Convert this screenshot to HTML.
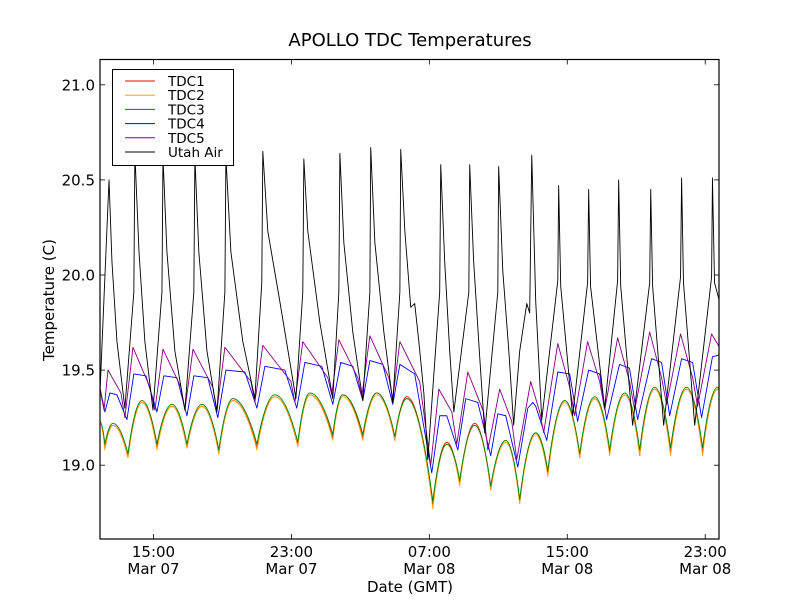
<!DOCTYPE html>
<html><head><meta charset="utf-8"><style>
html,body{margin:0;padding:0;background:#fff;}
svg{display:block;font-family:"DejaVu Sans","Liberation Sans",sans-serif;}
</style></head><body>
<svg id="chart" width="800" height="600" viewBox="0 0 800 600">
<rect x="0" y="0" width="800" height="600" fill="#fff"/>
<text x="410" y="46" font-size="18" text-anchor="middle">APOLLO TDC Temperatures</text>
<text transform="translate(54,300) rotate(-90)" font-size="15" text-anchor="middle">Temperature (C)</text>
<text x="410" y="592" font-size="15" text-anchor="middle">Date (GMT)</text>
<defs><clipPath id="plotclip"><rect x="100" y="59.5" width="619" height="479.5"/></clipPath></defs>
<g id="series" clip-path="url(#plotclip)"></g>
<g id="axes"></g>
<g id="legend"></g>
</svg>
<script>
// x: hours since Mar 07 00:00 GMT, y: temperature (C)
const xTickHours = [15, 23, 31, 39, 47];
const xTickTimes = ["15:00", "23:00", "07:00", "15:00", "23:00"];
const xTickDates = ["Mar 07", "Mar 07", "Mar 08", "Mar 08", "Mar 08"];
const yTicks = [19.0, 19.5, 20.0, 20.5, 21.0];
const yTickLabels = ["19.0", "19.5", "20.0", "20.5", "21.0"];
const seriesNames = ["TDC1", "TDC2", "TDC3", "TDC4", "TDC5", "Utah Air"];

const airTimes = [11.89,12.42,12.59,12.88,13.34,13.86,13.92,14.16,14.50,14.97,15.49,15.55,15.78,16.24,16.82,17.34,17.40,17.63,18.10,18.68,19.14,19.20,19.49,20.18,20.88,21.28,21.34,21.63,22.33,23.26,23.66,23.72,23.95,24.65,25.40,25.75,25.81,26.04,26.56,27.14,27.55,27.60,27.84,28.36,28.88,29.29,29.34,29.58,29.92,30.15,30.39,30.68,30.91,31.60,31.66,31.89,32.18,32.42,33.29,33.34,33.57,33.92,34.21,34.97,35.02,35.26,35.61,35.89,36.24,36.65,36.82,36.94,37.17,37.52,38.45,38.50,38.62,39.31,40.18,40.24,40.35,41.17,41.92,41.98,42.10,42.79,43.78,43.84,43.95,44.59,45.57,45.63,45.74,46.39,47.37,47.42,47.54,47.83];
const airValues = [19.37,20.50,20.07,19.65,19.30,19.91,20.64,20.12,19.65,19.29,19.91,20.62,20.12,19.60,19.29,19.91,20.62,20.12,19.60,19.28,19.91,20.62,20.12,19.65,19.35,19.96,20.65,20.23,19.86,19.35,19.91,20.61,20.23,19.75,19.35,19.91,20.64,20.17,19.70,19.34,19.91,20.67,20.17,19.70,19.33,19.91,20.66,20.23,19.83,19.85,19.65,19.38,19.03,19.91,20.58,20.07,19.60,19.28,19.91,20.58,20.07,19.57,19.17,19.91,20.57,20.02,19.60,19.21,19.60,19.85,19.80,20.63,19.86,19.24,19.97,20.47,19.94,19.26,19.96,20.45,19.94,19.30,19.97,20.50,19.94,19.21,19.96,20.45,19.94,19.21,19.99,20.51,19.96,19.21,19.99,20.51,19.96,19.86];

const tdc4Times = [11.89,12.18,12.47,12.88,13.46,13.86,14.56,15.20,15.60,16.36,16.94,17.34,18.15,18.73,19.20,20.30,21.00,21.46,22.62,23.31,23.78,24.76,25.40,25.86,26.56,27.14,27.55,28.30,28.88,29.29,30.15,31.14,31.60,32.01,32.65,33.11,33.81,34.56,34.97,35.43,36.13,36.71,37.00,37.17,37.81,38.45,39.14,39.60,40.24,40.88,41.28,42.03,42.61,43.08,43.89,44.47,44.94,45.63,46.27,46.79,47.42,47.83];
const tdc4Values = [19.41,19.28,19.38,19.37,19.24,19.48,19.47,19.28,19.47,19.46,19.26,19.47,19.46,19.25,19.50,19.49,19.30,19.52,19.50,19.30,19.54,19.52,19.32,19.54,19.52,19.34,19.55,19.53,19.32,19.53,19.48,18.96,19.26,19.26,19.08,19.35,19.33,19.05,19.27,19.26,18.99,19.30,19.33,19.31,19.13,19.49,19.48,19.23,19.50,19.48,19.24,19.53,19.51,19.24,19.56,19.54,19.26,19.56,19.54,19.25,19.57,19.58];

const tdc5Times = [11.89,12.13,12.36,13.11,13.34,13.81,14.79,15.08,15.55,16.59,16.82,17.29,18.44,18.68,19.14,20.65,20.88,21.34,22.97,23.20,23.66,25.11,25.34,25.75,26.85,27.08,27.55,28.65,28.88,29.29,30.44,31.08,31.55,32.30,32.59,33.23,34.15,34.39,35.08,35.78,36.07,36.88,37.40,37.63,38.45,39.14,39.43,40.18,40.88,41.17,41.92,42.61,42.91,43.78,44.47,44.76,45.57,46.27,46.56,47.37,47.83];
const tdc5Values = [19.40,19.29,19.50,19.38,19.25,19.62,19.41,19.29,19.61,19.41,19.29,19.61,19.41,19.29,19.62,19.44,19.33,19.63,19.44,19.33,19.65,19.46,19.37,19.66,19.46,19.36,19.68,19.46,19.35,19.65,19.44,19.00,19.40,19.28,19.11,19.49,19.28,19.08,19.40,19.23,19.03,19.44,19.28,19.17,19.64,19.41,19.26,19.65,19.44,19.29,19.67,19.44,19.29,19.70,19.46,19.32,19.69,19.46,19.31,19.69,19.62];

const tdcTimes = [11.89,12.18,12.65,13.52,14.33,15.20,16.07,16.94,17.81,18.79,19.60,21.00,22.04,23.37,24.07,25.40,25.98,27.14,27.95,29.00,29.69,31.20,32.01,32.76,33.63,34.56,35.43,36.24,37.17,37.87,38.85,39.72,40.59,41.46,42.33,43.20,44.07,44.99,45.92,46.85,47.72,47.83];
const tdc3Values = [19.23,19.11,19.22,19.06,19.34,19.11,19.32,19.11,19.32,19.08,19.35,19.11,19.37,19.12,19.38,19.16,19.37,19.16,19.38,19.15,19.35,18.81,19.11,18.92,19.21,18.89,19.13,18.82,19.17,18.97,19.34,19.06,19.36,19.08,19.38,19.08,19.41,19.09,19.41,19.09,19.41,19.40];
const tdc1Values = [19.22,19.09,19.21,19.04,19.33,19.09,19.31,19.09,19.31,19.06,19.34,19.09,19.36,19.10,19.37,19.14,19.37,19.14,19.38,19.13,19.36,18.79,19.12,18.90,19.22,18.87,19.13,18.80,19.17,18.95,19.34,19.04,19.35,19.06,19.37,19.05,19.40,19.06,19.40,19.06,19.40,19.39];
const tdc2Values = [19.22,19.08,19.21,19.04,19.33,19.08,19.31,19.09,19.31,19.06,19.34,19.08,19.36,19.10,19.37,19.13,19.36,19.13,19.37,19.13,19.35,18.77,19.11,18.89,19.21,18.87,19.12,18.80,19.16,18.94,19.33,19.04,19.35,19.05,19.37,19.05,19.40,19.05,19.40,19.05,19.40,19.39];

const NS = "http://www.w3.org/2000/svg";
const L = 100, R = 719, T = 59.5, B = 539;
const xMin = 11.897, xMax = 47.80, yMin = 18.612, yMax = 21.133;
function xs(h){ return L + (h - xMin) / (xMax - xMin) * (R - L); }
function ys(v){ return B - (v - yMin) / (yMax - yMin) * (B - T); }

const seriesG = document.getElementById("series");
const axesG = document.getElementById("axes");
const legendG = document.getElementById("legend");

function polyPath(times, vals){
  let d = "";
  for (let i = 0; i < times.length; i++) d += (i ? "L" : "M") + xs(times[i]).toFixed(2) + "," + ys(vals[i]).toFixed(2);
  return d;
}
function smoothPath(times, vals){
  const p = times.map((t, i) => [xs(t), ys(vals[i])]);
  function isPeak(i){
    const prev = i > 0 ? p[i-1][1] : p[i+1][1];
    const next = i < p.length - 1 ? p[i+1][1] : p[i-1][1];
    return p[i][1] <= prev && p[i][1] <= next;
  }
  let d = "M" + p[0][0].toFixed(2) + "," + p[0][1].toFixed(2);
  for (let i = 0; i < p.length - 1; i++){
    const A = p[i], Bp = p[i+1], dx = Bp[0] - A[0], dy = Bp[1] - A[1];
    const c1 = isPeak(i) ? [A[0] + 0.45*dx, A[1]] : [A[0] + 0.15*dx, A[1] + 0.3*dy];
    const c2 = isPeak(i+1) ? [Bp[0] - 0.45*dx, Bp[1]] : [Bp[0] - 0.15*dx, Bp[1] - 0.3*dy];
    d += "C" + c1[0].toFixed(2) + "," + c1[1].toFixed(2) + " " + c2[0].toFixed(2) + "," + c2[1].toFixed(2) + " " + Bp[0].toFixed(2) + "," + Bp[1].toFixed(2);
  }
  return d;
}
function addLine(d, color, name){
  const path = document.createElementNS(NS, "path");
  path.setAttribute("d", d);
  path.setAttribute("fill", "none");
  path.setAttribute("stroke", color);
  path.setAttribute("stroke-width", "0.9");
  path.setAttribute("stroke-linejoin", "round");
  
  
  seriesG.appendChild(path);
}
addLine(smoothPath(tdcTimes, tdc1Values), "#ff0000", "tdc1-line");
addLine(smoothPath(tdcTimes, tdc2Values), "#ffa500", "tdc2-line");
addLine(smoothPath(tdcTimes, tdc3Values), "#008000", "tdc3-line");
addLine(polyPath(tdc4Times, tdc4Values), "#0000ff", "tdc4-line");
addLine(polyPath(tdc5Times, tdc5Values), "#800080", "tdc5-line");
addLine(polyPath(airTimes, airValues), "#000000", "utah-air-line");

const frame = document.createElementNS(NS, "rect");
frame.setAttribute("x", L); frame.setAttribute("y", T);
frame.setAttribute("width", R - L); frame.setAttribute("height", B - T);
frame.setAttribute("fill", "none"); frame.setAttribute("stroke", "#000"); frame.setAttribute("stroke-width", "1.2");


axesG.appendChild(frame);

function tick(x1, y1, x2, y2, name){
  const l = document.createElementNS(NS, "line");
  l.setAttribute("x1", x1); l.setAttribute("y1", y1); l.setAttribute("x2", x2); l.setAttribute("y2", y2);
  l.setAttribute("stroke", "#000"); l.setAttribute("stroke-width", "0.8");
  
  
  axesG.appendChild(l);
}
function label(x, y, txt, anchor, name, size){
  const t = document.createElementNS(NS, "text");
  t.setAttribute("x", x); t.setAttribute("y", y);
  t.setAttribute("font-size", size || 15);
  t.setAttribute("text-anchor", anchor);
  t.textContent = txt;
  
  
  return t;
}
yTicks.forEach((v, i) => {
  const y = ys(v);
  tick(L, y, L + 5, y, "y-tick-left");
  tick(R, y, R - 5, y, "y-tick-right");
  axesG.appendChild(label(95, y + 5.5, yTickLabels[i], "end", "y-tick-label"));
});
xTickHours.forEach((h, i) => {
  const x = xs(h);
  tick(x, B, x, B - 5, "x-tick-bottom");
  tick(x, T, x, T + 5, "x-tick-top");
  axesG.appendChild(label(x, 557, xTickTimes[i], "middle", "x-tick-time-label"));
  axesG.appendChild(label(x, 574, xTickDates[i], "middle", "x-tick-date-label"));
});

const legColors = ["#ff0000", "#ffa500", "#008000", "#0000ff", "#800080", "#000000"];
const box = document.createElementNS(NS, "rect");
box.setAttribute("x", 112.5); box.setAttribute("y", 69.5); box.setAttribute("width", 121); box.setAttribute("height", 96);
box.setAttribute("fill", "#fff"); box.setAttribute("stroke", "#000"); box.setAttribute("stroke-width", "1");


legendG.appendChild(box);
seriesNames.forEach((n, i) => {
  const y = 81 + i * 14.2;
  const g = document.createElementNS(NS, "g");
  
  
  const l = document.createElementNS(NS, "line");
  l.setAttribute("x1", 125); l.setAttribute("x2", 155); l.setAttribute("y1", y); l.setAttribute("y2", y);
  l.setAttribute("stroke", legColors[i]); l.setAttribute("stroke-width", "1");
  
  
  g.appendChild(l);
  g.appendChild(label(168, y + 5, n, "start", "legend-label", 13.5));
  legendG.appendChild(g);
});
</script>
</body></html>
